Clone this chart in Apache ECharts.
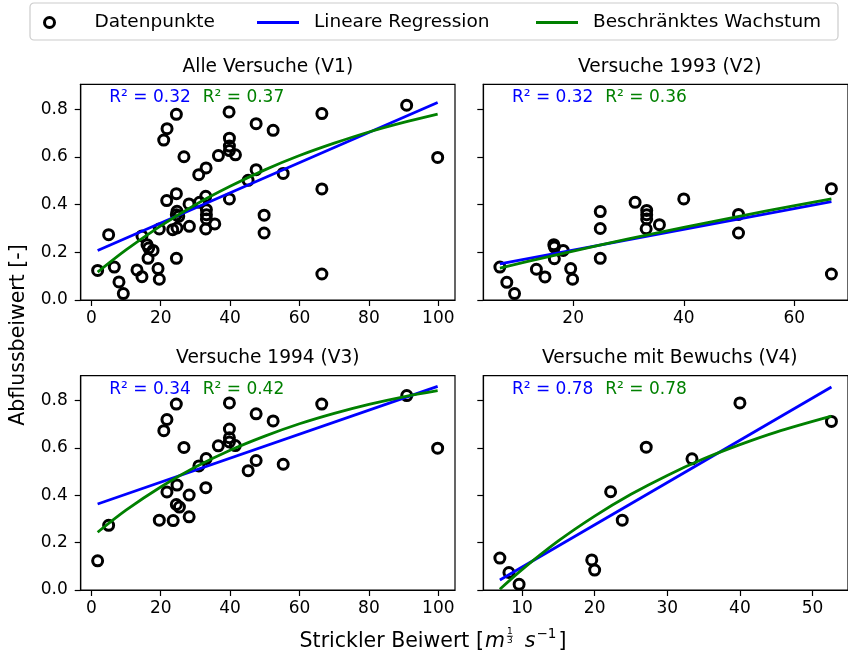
<!DOCTYPE html>
<html><head><meta charset="utf-8">
<script src="https://cdn.jsdelivr.net/npm/echarts@6/dist/echarts.min.js"></script>
<style>html,body{margin:0;padding:0;background:#fff}#c{width:848px;height:657px}</style>
</head><body><div id="c"></div>
<script>
// ---------- data ----------
const titles = ['Alle Versuche (V1)', 'Versuche 1993 (V2)', 'Versuche 1994 (V3)', 'Versuche mit Bewuchs (V4)'];
const legendNames = ['Datenpunkte', 'Lineare Regression', 'Beschränktes Wachstum'];
const r2Lin = [0.32, 0.32, 0.34, 0.78];
const r2Exp = [0.37, 0.36, 0.42, 0.78];
const yTicks = [0, 0.2, 0.4, 0.6, 0.8];
const xTicksV1 = [0, 20, 40, 60, 80, 100];
const xTicksV2 = [20, 40, 60];
const xTicksV3 = [0, 20, 40, 60, 80, 100];
const xTicksV4 = [10, 20, 30, 40, 50];

const pointsV1 = [[1.83,0.124],[5.0,0.274],[6.63,0.138],[7.98,0.076],[9.23,0.027],[13.17,0.126],[14.6,0.098],[14.6,0.269],
 [16.06,0.232],[16.54,0.218],[16.35,0.175],[17.8,0.208],[19.23,0.132],[19.6,0.087],[19.6,0.298],[20.87,0.671],[21.83,0.719],
 [21.73,0.417],[23.46,0.295],[24.52,0.779],[24.52,0.446],[24.52,0.175],[24.7,0.372],[24.5,0.358],[25.2,0.351],[24.7,0.302],
 [26.7,0.601],[28.17,0.403],[28.27,0.309],[30.96,0.526],[31.2,0.410],[32.98,0.435],[33.08,0.554],[33.17,0.379],[33.17,0.358],
 [33.17,0.340],[32.98,0.298],[35.58,0.319],[36.63,0.606],[39.7,0.789],[39.8,0.679],[39.8,0.646],[39.8,0.627],[41.54,0.609],
 [39.8,0.424],[45.19,0.502],[47.5,0.547],[47.5,0.740],[49.8,0.356],[49.8,0.281],[52.4,0.712],[55.29,0.531],[66.44,0.782],
 [66.44,0.466],[66.44,0.109],[90.87,0.817],[99.81,0.598]];
const pointsV2 = [[6.75,0.138],[8.0,0.074],[9.4,0.027],[13.35,0.129],[14.9,0.097],[16.5,0.232],[16.6,0.222],[16.6,0.173],
 [18.2,0.208],[19.55,0.132],[19.9,0.087],[24.9,0.371],[24.9,0.300],[24.9,0.175],[31.2,0.410],[33.3,0.376],[33.3,0.358],
 [33.3,0.340],[33.2,0.299],[35.6,0.316],[40.0,0.424],[49.9,0.359],[49.9,0.281],[66.7,0.467],[66.7,0.109]];
const pointsV3 = [[1.83,0.123],[5.0,0.273],[19.6,0.295],[20.9,0.673],[21.8,0.72],[21.8,0.414],[23.6,0.293],[24.5,0.785],
 [24.7,0.443],[24.5,0.361],[25.4,0.35],[26.7,0.602],[28.2,0.401],[28.2,0.309],[31.0,0.524],[33.1,0.555],[33.0,0.432],
 [36.6,0.609],[39.8,0.790],[39.8,0.68],[39.8,0.643],[39.8,0.625],[41.5,0.610],[45.2,0.504],[47.5,0.547],[47.5,0.744],
 [52.4,0.714],[55.3,0.531],[66.4,0.785],[90.9,0.821],[99.8,0.599]];
const pointsV4 = [[6.95,0.135],[8.2,0.074],[9.6,0.024],[19.6,0.127],[20.0,0.084],[22.2,0.415],[23.8,0.295],[27.1,0.603],
 [33.4,0.554],[40.0,0.790],[52.6,0.712]];

const linV1 = [[1.83,0.208],[99.8,0.829]];
const expV1 = [[1.83,0.117],[10,0.210],[20,0.311],[30,0.400],[40,0.477],[50,0.546],[60,0.606],[70,0.658],[80,0.705],[90,0.745],[99.8,0.780]];
const linV2 = [[6.75,0.152],[66.7,0.413]];
const expV2 = [[6.75,0.134],[15,0.179],[25,0.231],[35,0.281],[45,0.328],[55,0.374],[66.7,0.424]];
const linV3 = [[1.83,0.363],[99.8,0.860]];
const expV3 = [[1.83,0.244],[10,0.337],[20,0.435],[30,0.519],[40,0.590],[50,0.650],[60,0.702],[70,0.746],[80,0.784],[90,0.816],[99.8,0.842]];
const linV4 = [[6.95,0.042],[52.6,0.857]];
const expV4 = [[6.95,0.003],[10,0.086],[15,0.207],[20,0.312],[25,0.404],[30,0.484],[35,0.554],[40,0.614],[45,0.667],[52.6,0.734]];

// ---------- layout ----------
const FONT = '"DejaVu Sans", sans-serif';
const BLUE = '#0000ff', GREEN = '#008000';
const panels = [
  {grid:{left:80.7, top:84.3, width:374.3, height:215.7}, xmin:-3.05, xmax:104.8, xt:xTicksV1, pts:pointsV1, lin:linV1, exp:expV1, ylab:true},
  {grid:{left:483.3, top:84.3, width:373, height:215.7}, xmin:3.75, xmax:69.7, xt:xTicksV2, pts:pointsV2, lin:linV2, exp:expV2, ylab:false},
  {grid:{left:80.7, top:375.7, width:374.3, height:214.3}, xmin:-3.05, xmax:104.8, xt:xTicksV3, pts:pointsV3, lin:linV3, exp:expV3, ylab:true},
  {grid:{left:483.3, top:375.7, width:373, height:214.3}, xmin:4.67, xmax:54.88, xt:xTicksV4, pts:pointsV4, lin:linV4, exp:expV4, ylab:false}
];
const YMAX = 0.905;

const grid = [], xAxis = [], yAxis = [], series = [], title = [], graphic = [];
panels.forEach((p, i) => {
  grid.push(Object.assign({show:true, borderColor:'#000', borderWidth:1.2, backgroundColor:'transparent', containLabel:false}, p.grid));
  xAxis.push({type:'value', gridIndex:i, min:p.xmin, max:p.xmax,
    axisLine:{show:true, onZero:false, lineStyle:{color:'#000', width:1.2}},
    axisTick:{show:true, length:6, lineStyle:{color:'#000', width:1.2}, customValues:p.xt},
    axisLabel:{show:true, color:'#000', fontSize:17, fontFamily:FONT, margin:10, customValues:p.xt},
    splitLine:{show:false}});
  yAxis.push({type:'value', gridIndex:i, min:0, max:YMAX,
    axisLine:{show:true, onZero:false, lineStyle:{color:'#000', width:1.2}},
    axisTick:{show:true, length:6, lineStyle:{color:'#000', width:1.2}, customValues:yTicks},
    axisLabel:{show:p.ylab, color:'#000', fontSize:17, fontFamily:FONT, margin:13, customValues:yTicks,
      formatter:v => v.toFixed(1)},
    splitLine:{show:false}});
  series.push({type:'scatter', name:legendNames[0], xAxisIndex:i, yAxisIndex:i, data:p.pts,
    symbol:'circle', symbolSize:10, z:2,
    itemStyle:{color:'rgba(255,255,255,0)', borderColor:'#000', borderWidth:3, opacity:1}, emphasis:{disabled:true}});
  series.push({type:'line', name:legendNames[1], xAxisIndex:i, yAxisIndex:i, data:p.lin, symbol:'none', z:3,
    lineStyle:{color:BLUE, width:2.8}, itemStyle:{color:BLUE}, emphasis:{disabled:true}});
  series.push({type:'line', name:legendNames[2], xAxisIndex:i, yAxisIndex:i, data:p.exp, symbol:'none', smooth:0.3, z:4,
    lineStyle:{color:GREEN, width:2.8}, itemStyle:{color:GREEN}, emphasis:{disabled:true}});
  const cx = p.grid.left + p.grid.width / 2;
  title.push({text:titles[i], left:cx, top:p.grid.top - 27, textAlign:'center', padding:0,
    textStyle:{color:'#000', fontSize:18.6, fontWeight:'normal', fontFamily:FONT}});
  const ty = p.grid.top + 13.5;
  graphic.push({type:'text', x:p.grid.left + 28.6, y:ty, silent:true,
    style:{text:'R² = ' + r2Lin[i].toFixed(2), fill:BLUE, font:'17px ' + FONT, textAlign:'left', textVerticalAlign:'middle'}});
  graphic.push({type:'text', x:p.grid.left + 122, y:ty, silent:true,
    style:{text:'R² = ' + r2Exp[i].toFixed(2), fill:GREEN, font:'17px ' + FONT, textAlign:'left', textVerticalAlign:'middle'}});
});

// legend frame
graphic.push({type:'rect', shape:{x:30, y:3, width:808, height:37, r:4}, z:-1, silent:true,
  style:{fill:'#fff', stroke:'#cccccc', lineWidth:1.2}});

// y-axis label
graphic.push({type:'text', x:18.5, y:335, rotation:Math.PI/2, silent:true,
  style:{text:'Abflussbeiwert [-]', fill:'#000', font:'20.5px ' + FONT, textAlign:'center', textVerticalAlign:'middle'}});

// x-axis label with math-like pieces
(function(){
  const ctx = document.createElement('canvas').getContext('2d');
  const tw = (s, f) => { ctx.font = f; return ctx.measureText(s).width; };
  const fMain = '20.5px ' + FONT, fIt = 'italic 20.5px ' + FONT, fSup = '13.5px ' + FONT, fFrac = '9px ' + FONT;
  const t1 = 'Strickler Beiwert [';
  const w1 = tw(t1, fMain), wm = tw('m', fIt), ws = tw('s', fIt), wsup = tw('−1', fSup), wb = tw(']', fMain);
  const fracW = 6;
  const total = w1 + 1 + wm + 2 + fracW + 12 + ws + 1 + wsup + 2 + wb;
  let x = 433 - total / 2;
  const yM = 642;
  const add = (text, xx, yy, font) => graphic.push({type:'text', x:xx, y:yy, silent:true,
    style:{text:text, fill:'#000', font:font, textAlign:'left', textVerticalAlign:'middle'}});
  add(t1, x, yM, fMain); x += w1 + 1;
  add('m', x, yM, fIt); x += wm + 2;
  const fc = x + fracW / 2;
  graphic.push({type:'text', x:fc, y:631.5, silent:true, style:{text:'1', fill:'#000', font:fFrac, textAlign:'center', textVerticalAlign:'middle'}});
  graphic.push({type:'line', silent:true, shape:{x1:x, y1:636.2, x2:x + fracW, y2:636.2}, style:{stroke:'#000', lineWidth:0.8}});
  graphic.push({type:'text', x:fc, y:640.8, silent:true, style:{text:'3', fill:'#000', font:fFrac, textAlign:'center', textVerticalAlign:'middle'}});
  x += fracW + 12;
  add('s', x, yM, fIt); x += ws + 1;
  add('−1', x, 634.5, fSup); x += wsup + 2;
  add(']', x, yM, fMain);
})();

const legendText = {color:'#000', fontSize:18.5, fontFamily:FONT};
const legend = [
  {data:[{name:legendNames[0], icon:'circle', itemStyle:{color:'rgba(255,255,255,0)', borderColor:'#000', borderWidth:3}}],
    left:43, top:13, padding:0, itemWidth:42, itemHeight:10, selectedMode:false,
    textStyle:Object.assign({padding:[0,0,0,19]}, legendText)},
  {data:[{name:legendNames[1], icon:'rect', itemStyle:{color:BLUE}}], left:257, top:13, padding:0, itemWidth:42, itemHeight:2.8, selectedMode:false,
    textStyle:Object.assign({padding:[0,0,0,10]}, legendText)},
  {data:[{name:legendNames[2], icon:'rect', itemStyle:{color:GREEN}}], left:536, top:13, padding:0, itemWidth:42, itemHeight:2.8, selectedMode:false,
    textStyle:Object.assign({padding:[0,0,0,10]}, legendText)}
];

const chart = echarts.init(document.getElementById('c'), null, {renderer:'canvas'});
chart.setOption({animation:false, backgroundColor:'#fff', grid, xAxis, yAxis, series, title, legend, graphic});
</script></body></html>
